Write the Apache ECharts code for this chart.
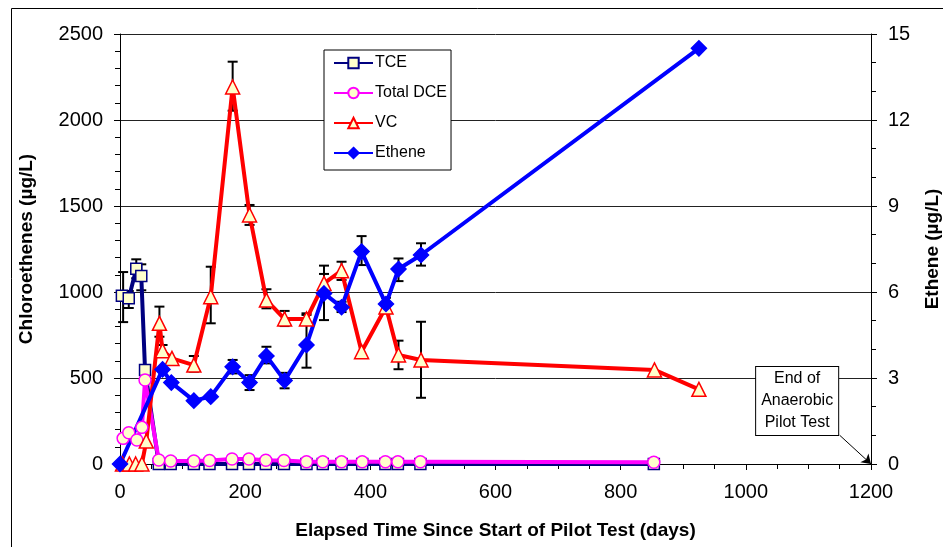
<!DOCTYPE html>
<html>
<head>
<meta charset="utf-8">
<script src="https://cdn.jsdelivr.net/npm/echarts@6/dist/echarts.min.js"></script>
<style>
  html, body { margin: 0; padding: 0; background: #fff; }
  #chart { width: 943px; height: 547px; }
</style>
</head>
<body>
<div id="chart"></div>
<script>
// values
const tceDays = [3, 14, 26, 34, 40, 62, 81, 118, 143, 179, 206, 233, 262, 298, 324, 354, 387, 424, 444, 480, 853]
const tceVals = [978, 963, 1135, 1093, 547, 0, 0, 0, 0, 0, 0, 0, 0, 0, 0, 0, 0, 0, 0, 0, 0]
const tceErr = [[5, 825, 1116], [14, 907, 1006], [26, 1080, 1190], [34, 1010, 1161]]

const dceDays = [5, 14, 27, 35, 40, 62, 81, 118, 143, 179, 206, 233, 262, 298, 324, 354, 387, 424, 444, 480, 853]
const dceVals = [149, 182, 140, 213, 488, 23, 17, 17, 20, 29, 29, 22, 20, 13, 13, 13, 13, 13, 13, 13, 10]

const vcDays = [4, 15, 25, 35, 42, 63, 68, 83, 118, 145, 180, 207, 234, 263, 298, 326, 354, 386, 425, 445, 481, 854, 925]
const vcVals = [0, 0, 0, 0, 133, 818, 659, 614, 575, 973, 2192, 1448, 953, 843, 843, 1050, 1124, 653, 913, 634, 605, 547, 434]
const vcErr = [[63, 740, 915], [68, 626, 692], [118, 537, 628], [145, 818, 1147], [180, 2054, 2339],
  [207, 1390, 1506], [234, 905, 1016], [263, 802, 890], [298, 810, 876], [326, 1000, 1105],
  [354, 1070, 1176], [445, 551, 717], [481, 385, 827]]

const ethDays = [0, 68, 82, 118, 145, 180, 207, 234, 263, 298, 326, 354, 386, 425, 445, 481, 925]
const ethVals = [0, 3.3, 2.84, 2.21, 2.35, 3.39, 2.84, 3.77, 2.91, 4.15, 5.95, 5.47, 7.41, 5.58, 6.8, 7.29, 14.5]
const ethErr = [[180, 3.16, 3.63], [207, 2.58, 3.1], [234, 3.51, 4.09], [263, 2.64, 3.18], [298, 3.36, 5.2],
  [326, 5.02, 6.92], [354, 5.3, 5.66], [386, 6.94, 7.95], [425, 5.26, 5.8], [445, 6.38, 7.17], [481, 6.92, 7.7]]

const zip = (xs, ys) => xs.map((x, i) => [x, ys[i]])

const font = 'Liberation Sans, Arial, sans-serif'

// vertical error bar with caps, positioned by the axes
const errorBar = (params, api) => {
  const p1 = api.coord([api.value(0), api.value(1)])
  const p2 = api.coord([api.value(0), api.value(2)])
  const w = 5
  const st = { stroke: '#000', lineWidth: 2 }
  return {
    type: 'group',
    children: [
      { type: 'line', shape: { x1: p1[0], y1: p1[1], x2: p2[0], y2: p2[1] }, style: st },
      { type: 'line', shape: { x1: p1[0] - w, y1: p1[1], x2: p1[0] + w, y2: p1[1] }, style: st },
      { type: 'line', shape: { x1: p2[0] - w, y1: p2[1], x2: p2[0] + w, y2: p2[1] }, style: st },
    ],
  }
}

const errSeries = (data, yIdx) => ({
  type: 'custom',
  yAxisIndex: yIdx,
  renderItem: errorBar,
  encode: { x: 0, y: [1, 2] },
  data: data,
  silent: true,
})

const lineSeries = (name, data, color, symbol, size, fill, yIdx) => ({
  name: name,
  type: 'line',
  yAxisIndex: yIdx,
  data: data,
  symbol: symbol,
  symbolSize: size,
  showAllSymbol: true,
  lineStyle: { color: color, width: 4 },
  itemStyle: { color: fill, borderColor: color, borderWidth: 1.5 },
})

const plain = (v) => String(v)

const axisBase = {
  axisLine: { show: true, lineStyle: { color: '#000', width: 1 } },
  axisTick: { show: true, inside: false, length: 6, lineStyle: { color: '#000' } },
  axisLabel: { color: '#000', fontSize: 20, fontFamily: font, formatter: plain },
  nameTextStyle: { color: '#000', fontSize: 19, fontWeight: 'bold', fontFamily: font },
}

const option = {
  animation: false,
  textStyle: { fontFamily: font },
  grid: { left: 120, right: 72, top: 34, bottom: 83, outerBoundsMode: 'none' },
  legend: {
    data: ['TCE', 'Total DCE', 'VC', 'Ethene'],
    orient: 'vertical',
    left: 324,
    top: 50,
    itemWidth: 39,
    itemHeight: 13,
    itemGap: 14,
    padding: [5, 4, 9, 9],
    borderColor: '#000',
    borderWidth: 1,
    backgroundColor: '#fff',
    textStyle: { fontSize: 16, color: '#000', fontFamily: font, padding: [0, 0, 0, -3] },
  },
  xAxis: {
    ...axisBase,
    type: 'value',
    min: 0,
    max: 1200,
    interval: 200,
    splitLine: { show: false },
    minorTick: { show: true, splitNumber: 4, length: 5, lineStyle: { color: '#000' } },
    axisLabel: { ...axisBase.axisLabel, margin: 18 },
    name: 'Elapsed Time Since Start of Pilot Test (days)',
    nameLocation: 'middle',
    nameGap: 57,
  },
  yAxis: [
    {
      ...axisBase,
      type: 'value',
      min: 0,
      max: 2500,
      interval: 500,
      splitLine: { show: true, lineStyle: { color: '#222', width: 1 } },
      minorTick: { show: true, splitNumber: 5, length: 5, lineStyle: { color: '#000' } },
      axisLabel: { ...axisBase.axisLabel, margin: 17 },
      name: 'Chloroethenes (µg/L)',
      nameLocation: 'middle',
      nameGap: 84,
    },
    {
      ...axisBase,
      type: 'value',
      position: 'right',
      min: 0,
      max: 15,
      interval: 3,
      splitLine: { show: false },
      minorTick: { show: true, splitNumber: 3, length: 5, lineStyle: { color: '#000' } },
      axisLabel: { ...axisBase.axisLabel, margin: 17 },
      name: 'Ethene (µg/L)',
      nameLocation: 'middle',
      nameGap: 52,
    },
  ],
  graphic: [
    {
      type: 'rect',
      left: 9,
      top: 6,
      silent: true,
      shape: { width: 1000, height: 600 },
      style: { fill: 'none', stroke: '#000', lineWidth: 1 },
    },
  ],
  series: [
    errSeries(tceErr, 0),
    errSeries(vcErr, 0),
    errSeries(ethErr, 1),
    lineSeries('TCE', zip(tceDays, tceVals), '#000080', 'rect', 11, '#ffffcc', 0),
    lineSeries('Total DCE', zip(dceDays, dceVals), '#ff00ff', 'circle', 12, '#ffffcc', 0),
    {
      ...lineSeries('VC', zip(vcDays, vcVals), '#ff0000', 'triangle', 14, '#ffffcc', 0),
      markPoint: {
        silent: true,
        symbol: 'rect',
        symbolSize: 1,
        itemStyle: { color: 'rgba(0,0,0,0)', borderWidth: 0 },
        label: {
          show: true,
          position: 'inside',
          formatter: 'End of\nAnaerobic\nPilot Test',
          color: '#000',
          fontSize: 16,
          lineHeight: 22,
          align: 'center',
          fontFamily: font,
          backgroundColor: '#fff',
          borderColor: '#000',
          borderWidth: 1,
          padding: [1, 5, 1, 5],
        },
        data: [{ coord: [1082, 366] }],
      },
      markLine: {
        silent: true,
        symbol: ['none', 'arrow'],
        symbolSize: 9,
        label: { show: false },
        lineStyle: { color: '#000', width: 1, type: 'solid' },
        data: [[{ coord: [1150, 167] }, { coord: [1200, 0] }]],
      },
    },
    lineSeries('Ethene', zip(ethDays, ethVals), '#0000ff', 'diamond', 15, '#0000ff', 1),
  ],
}

const myChart = echarts.init(document.getElementById('chart'))
myChart.setOption(option)
</script>
</body>
</html>
